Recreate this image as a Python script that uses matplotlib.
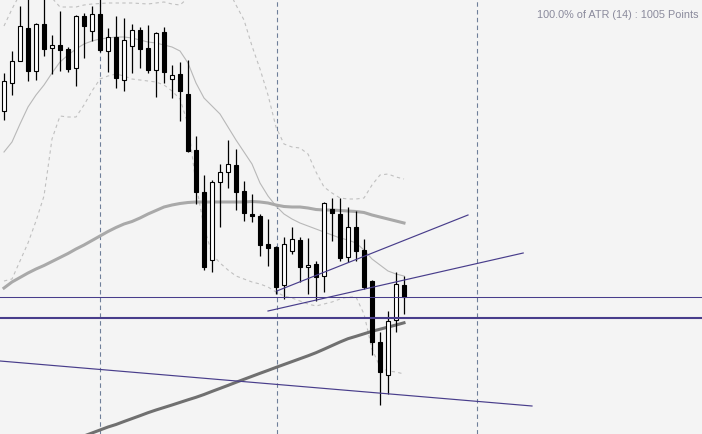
import matplotlib
matplotlib.use("Agg")
import matplotlib.pyplot as plt
import numpy as np

# OHLC per bar (price units are arbitrary points)
OPEN = [323, 351, 373, 406, 363, 410, 386, 389, 385, 366, 418, 403, 420, 383, 397, 354, 388,
        404, 386, 364, 402, 355, 360, 340, 284, 242, 174, 252, 262, 269, 243, 220, 218, 190,
        187, 149, 183, 194, 167, 170, 158, 225, 220, 177, 207, 184, 153, 92, 59, 114, 149]
HIGH = [361, 383, 428, 440, 411, 440, 399, 423, 387, 419, 421, 428, 440, 406, 418, 416, 410,
        407, 409, 402, 407, 369, 372, 374, 298, 259, 254, 270, 294, 285, 253, 240, 220, 215,
        188, 197, 207, 197, 196, 173, 232, 236, 236, 227, 223, 195, 154, 102, 123, 162, 158]
LOW = [314, 339, 373, 353, 354, 378, 360, 363, 362, 348, 376, 393, 382, 362, 346, 343, 361,
       366, 361, 337, 351, 336, 313, 282, 230, 164, 162, 207, 246, 224, 213, 212, 178, 168,
       140, 135, 180, 152, 140, 133, 142, 193, 173, 172, 173, 145, 79, 29, 40, 102, 120]
CLOSE = [353, 373, 408, 363, 410, 385, 389, 384, 365, 418, 408, 420, 384, 397, 356, 394, 404,
         385, 364, 401, 362, 359, 343, 283, 242, 167, 252, 262, 270, 242, 221, 218, 189, 186,
         147, 190, 195, 167, 169, 157, 231, 221, 176, 207, 183, 147, 92, 62, 113, 150, 137]

# indicators
MA_SLOW = [np.nan] * 8 + [-8, -5, -2, 1, 4, 7, 9.5, 12.5, 15.4, 18.3, 21.3, 24, 26.5, 29, 31.6,
                          34.2, 36.7, 39.5, 42.6, 45.6, 48.6, 51.7, 54.7, 57.7, 60.7, 63.6, 66.6,
                          69.5, 72.4, 75.3, 78.2, 81.3, 84.8, 88.4, 92, 95.3, 97.7, 100.2, 102.7,
                          104.8, 106.9, 109, 111.2]
MA_MID = [146, 152, 156.5, 161, 165, 168.5, 172.5, 176.5, 180.5, 185, 189, 193.5, 198, 202.5,
          206.5, 210, 212.5, 216, 220, 223.5, 227, 229, 230.5, 231.5, 232, 232, 232, 232, 232,
          232, 232, 232.5, 232, 231, 229, 227.5, 227, 227, 226, 224.5, 224, 224, 223.5, 223,
          222.5, 221.5, 219, 217, 215, 213, 211]
BB_MID = [282, 292, 310, 327, 339, 349, 361, 372, 379, 385, 390, 393, 395, 396, 397, 397, 396,
          394, 392, 391, 389, 387, 383, 371, 351, 336, 328, 320, 307, 294, 282, 270, 251, 238,
          228, 220, 215, 211, 208, 205, 202, 199, 196, 194, 191, 184, 175, 169, 163, 160, 158]
BB_UP = [408, 425, 440, 445, 445, 443, 436, 427, 427, 427, 429, 430, 430.5, 431, 431, 431, 431,
         430.5, 430, 431, 432, 430, 429, 436, 450, 460, 460, 455, 445, 429, 414, 388, 365, 339,
         307, 290, 287, 286, 280, 262, 247, 241, 236, 235, 235, 236, 249, 259, 260, 257, 255]
BB_LOW = [153, 155, 173, 191, 213, 238, 295, 318, 317, 317, 329, 343, 355, 358, 360, 358, 355,
          354, 353, 352, 349, 343, 335, 310, 250, 207, 180, 171, 164, 158, 155, 152, 150, 147,
          142, 138, 136, 133, 130, 128, 130, 132, 135, 137, 137, 120, 85, 67, 63, 62, 60]

# drawn objects
TREND_LINES = [([34.1, 58], [143, 219]),
               ([33, 64.9], [123, 181]),
               ([-0.5, 66], [73, 28])]
LEVEL_THIN = 137
LEVEL_THICK = 116.5
SEPARATORS = [12, 34.1, 59.1]
ATR_TEXT = "100.0% of ATR (14) : 1005 Points"

BG = "#f4f4f4"
BLUE = "#483d8b"

fig = plt.figure(figsize=(7.02, 4.35), dpi=100)
fig.patch.set_facecolor(BG)
ax = fig.add_axes([0, 0, 1, 1])
ax.set_facecolor(BG)

idx = np.arange(len(OPEN))
o = np.array(OPEN, dtype=float)
c = np.array(CLOSE, dtype=float)

for s in SEPARATORS:
    ax.axvline(s, color="#6f7f99", lw=0.8, ls=(0, (4, 3)), zorder=1)

# bollinger + moving averages under the candles
ax.plot(idx, BB_MID, color="#b8b8b8", lw=0.8, zorder=2)
ax.plot(idx, BB_UP, color="#c0c0c0", lw=0.8, ls=(0, (3, 3)), zorder=2)
ax.plot(idx, BB_LOW, color="#c0c0c0", lw=0.8, ls=(0, (3, 3)), zorder=2)
ax.plot(idx, MA_MID, color="#a9a9a9", lw=2.2, zorder=2)
ax.plot(idx, MA_SLOW, color="#707070", lw=2.2, zorder=2)

# candles
ax.vlines(idx, LOW, HIGH, color="black", lw=0.9, zorder=3)
up = c >= o
body_h = np.maximum(np.abs(c - o), 1.0)
ax.bar(idx, body_h, bottom=np.minimum(o, c), width=0.62,
       color=np.where(up, "white", "black"), edgecolor="black", linewidth=0.8, zorder=4)

# trend lines and levels on top
for xs, ys in TREND_LINES:
    ax.plot(xs, ys, color=BLUE, lw=0.85, zorder=5)
ax.axhline(LEVEL_THIN, color=BLUE, lw=0.75, zorder=5)
ax.axhline(LEVEL_THICK, color=BLUE, lw=1.5, zorder=5)

ax.set_xlim(-0.5, 87.25)
ax.set_ylim(0, 435)
ax.axis("off")

fig.text(0.995, 1 - 15 / 435, ATR_TEXT, ha="right", va="center", fontsize=7.8,
         color="#8a8a9c", family="Liberation Sans")

fig.savefig("out.png", dpi=100, facecolor=BG)
